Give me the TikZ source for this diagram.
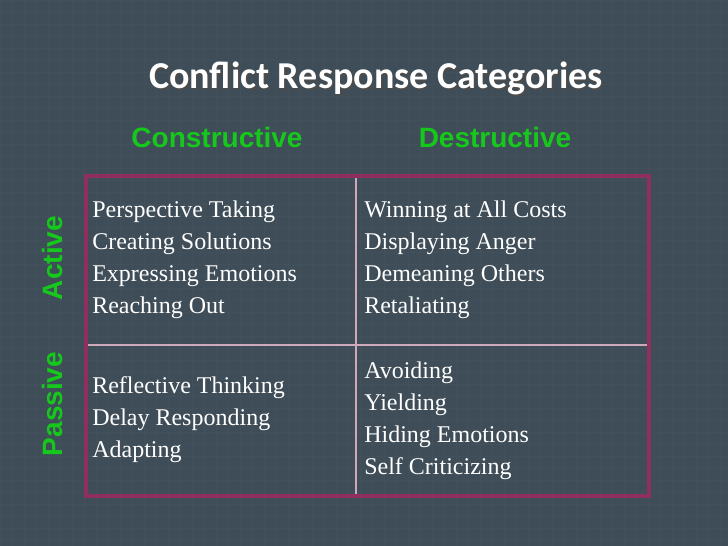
\documentclass[tikz,border=0pt]{standalone}
\usepackage{fontspec}
\setmainfont{Liberation Serif}
\newfontfamily\titlefont{Carlito}
\newfontfamily\headfont{Liberation Sans}
\definecolor{bg}{HTML}{3E4D57}
\definecolor{hg}{HTML}{16C81C}
\definecolor{frame}{HTML}{8E2F60}
\definecolor{inner}{HTML}{D0A8BC}
\begin{document}
\begin{tikzpicture}[x=0.75pt,y=-0.75pt,
  cell/.style={anchor=west,text=white,font=\fontsize{18}{21}\selectfont,inner sep=0pt},
  head/.style={text=hg,font=\headfont\bfseries\fontsize{21}{24}\selectfont},
  side/.style={text=hg,font=\headfont\bfseries\fontsize{21}{24}\selectfont,rotate=90}]
\fill[bg] (0,0) rectangle (728,546);
\useasboundingbox (0,0) rectangle (728,546);
\foreach \i in {0,12,...,728} \draw[bg!85!white,opacity=0.12,line width=0.3pt] (\i,0)--(\i,546);
\foreach \i in {0,12,...,546} \draw[bg!85!white,opacity=0.12,line width=0.3pt] (0,\i)--(728,\i);
\node[text=black!70,font=\titlefont\bfseries\fontsize{28.5}{32}\selectfont] at (378,80) {Conflict Response Categories};
\node (title)[text=white,font=\titlefont\bfseries\fontsize{28.5}{32}\selectfont] at (376,78) {Conflict Response Categories};
\node (c1)[head] at (217,137) {Constructive};
\node (c2)[head] at (495,137) {Destructive};
\node (r1)[side] at (52,258) {Active};
\node (r2)[side] at (52,404) {Passive};
\draw[inner,line width=1.5pt] (356,177)--(356,495);
\draw[inner,line width=1.5pt] (87,345)--(648,345);
\draw[frame,line width=3.5pt] (86,176) rectangle (649,496);
\node[cell] at (92,212) {Perspective Taking};
\node[cell] at (92,244) {Creating Solutions};
\node[cell] at (92,276) {Expressing Emotions};
\node[cell] at (92,308) {Reaching Out};
\node[cell] at (364,212) {Winning at All Costs};
\node[cell] at (364,244) {Displaying Anger};
\node[cell] at (364,276) {Demeaning Others};
\node[cell] at (364,308) {Retaliating};
\node[cell] at (92,388) {Reflective Thinking};
\node[cell] at (92,420) {Delay Responding};
\node[cell] at (92,452) {Adapting};
\node[cell] at (364,373) {Avoiding};
\node[cell] at (364,405) {Yielding};
\node[cell] at (364,437) {Hiding Emotions};
\node[cell] at (364,469) {Self Criticizing};
\end{tikzpicture}
\end{document}
